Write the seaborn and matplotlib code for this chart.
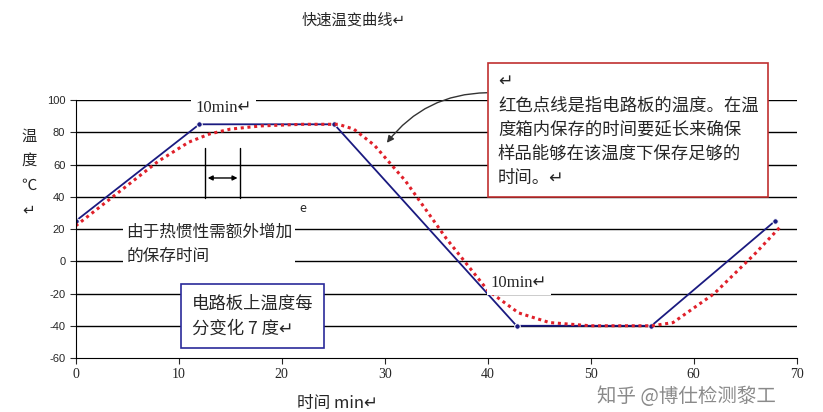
import matplotlib
matplotlib.use("Agg")
import matplotlib.pyplot as plt
import seaborn as sns

sns.set_style("white")
plt.rcParams['font.family'] = ['Noto Sans CJK SC', 'DejaVu Sans']
SERIF = ['Liberation Serif', 'DejaVu Sans']

blue_x = [0, 12.0, 25.1, 42.8, 55.9, 67.9]
blue_y = [25, 85, 85, -40, -40, 25]
red_x = [0, 4, 8, 11, 13, 15, 18, 22, 25.5, 27, 29, 32, 36, 40, 43, 46, 50, 56, 58, 62, 66, 68.5]
red_y = [22, 42, 62, 74, 79, 82, 84, 85, 85, 82, 72, 50, 14, -18, -32, -38, -40, -40, -38, -20, 5, 22]
xticks = [0, 10, 20, 30, 40, 50, 60, 70]
yticks = [-60, -40, -20, 0, 20, 40, 60, 80, 100]

fig = plt.figure(figsize=(8.23, 4.12), dpi=100)
ax = fig.add_axes([0.092, 0.131, 0.876, 0.626])
for y in yticks[1:]:
    ax.axhline(y, color='black', lw=1, zorder=0)
sns.lineplot(x=blue_x, y=blue_y, ax=ax, color='#1a1a80', lw=1.3, marker='o', markersize=4, sort=False)
sns.lineplot(x=red_x, y=red_y, ax=ax, color='#e0202a', lw=2.2, linestyle=(0, (1, 1.2)), sort=False)
ax.set_xlim(0, 70); ax.set_ylim(-60, 100)
ax.set_xticks(xticks); ax.set_yticks(yticks)
ax.set_xticklabels([str(v) for v in xticks], fontsize=10, family='Liberation Serif')
ax.set_yticklabels([str(v) for v in yticks], fontsize=8, family='Liberation Sans')
for s in ['top', 'right']:
    ax.spines[s].set_visible(False)
ax.spines['left'].set_color('black'); ax.spines['bottom'].set_color('black')
ax.tick_params(axis='both', length=4, direction='out', bottom=True, left=True)

fig.text(0.43, 0.94, "快速温变曲线↵", fontsize=11, ha='center')
fig.text(0.035, 0.58, "温\n度\n℃\n↵", fontsize=11, ha='center', va='center', linespacing=1.6)
fig.text(0.41, 0.01, "时间 min↵", fontsize=12, ha='center')
fig.text(0.725, 0.025, "知乎 @博仕检测黎工", fontsize=14, color='#8a8a8a', ha='left', zorder=5)

ax.text(0.205, 0.97, "10min↵", transform=ax.transAxes, fontsize=12, family=SERIF,
        ha='center', va='center', bbox=dict(fc='white', ec='none', pad=3))
ax.text(0.615, 0.29, "10min↵", transform=ax.transAxes, fontsize=12, family=SERIF,
        ha='center', va='center', bbox=dict(fc='white', ec='none', pad=3))
ax.text(0.07, 0.52, "由于热惯性需额外增加\n的保存时间", transform=ax.transAxes, fontsize=12,
        ha='left', va='top', linespacing=1.5, bbox=dict(fc='white', ec='none', pad=2))
ax.text(0.31, 0.565, "e", transform=ax.transAxes, fontsize=9)
fig.text(0.233, 0.285, "电路板上温度每\n分变化 7 度↵", fontsize=12.5,
         ha='left', va='top', linespacing=1.5,
         bbox=dict(fc='white', ec='#2a2a9a', lw=1.2, boxstyle='square,pad=0.6'))
fig.text(0.605, 0.825, "↵\n红色点线是指电路板的温度。在温\n度箱内保存的时间要延长来确保\n样品能够在该温度下保存足够的\n时间。↵",
         fontsize=12.5, ha='left', va='top', linespacing=1.45,
         bbox=dict(fc='white', ec='#c03030', lw=1.2, boxstyle='square,pad=0.55'))
ax.annotate("", xy=(0.468, 0.648), xytext=(0.595, 0.775), xycoords='figure fraction',
            arrowprops=dict(arrowstyle='-|>', color='#333333', lw=1, connectionstyle='arc3,rad=0.25'))
for xf in [0.249, 0.292]:
    fig.add_artist(plt.Line2D([xf, xf], [0.52, 0.64], color='black', lw=1))
ax.annotate("", xy=(0.249, 0.568), xytext=(0.292, 0.568), xycoords='figure fraction',
            arrowprops=dict(arrowstyle='<|-|>', color='black', lw=1, mutation_scale=7))
fig.savefig("out.png", dpi=100)
